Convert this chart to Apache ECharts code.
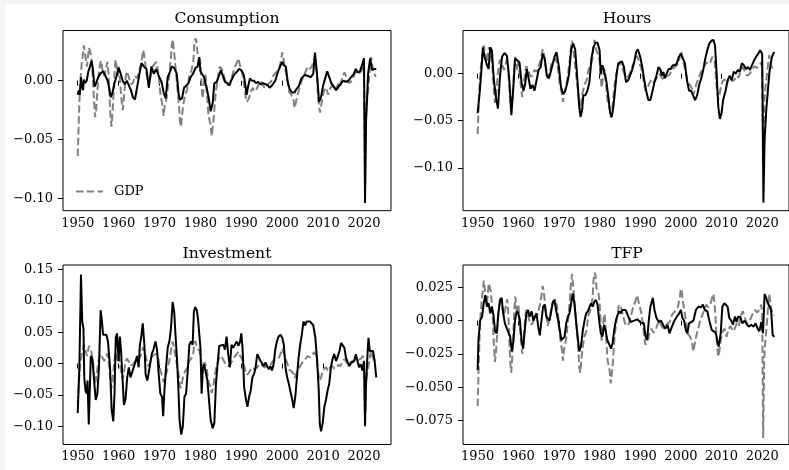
<!DOCTYPE html>
<html>
<head>
<meta charset="utf-8">
<script src="https://cdn.jsdelivr.net/npm/echarts@6/dist/echarts.min.js"></script>
<style>
html,body{margin:0;padding:0;background:#f5f5f5;width:789px;height:470px;overflow:hidden}
#c{position:absolute;left:5px;top:4px;width:784px;height:466px;background:#fff}
</style>
</head>
<body>
<div id="c"></div>
<script>
// ---- data (quarterly-ish readings of HP-filtered cycles) ----
const panelTitles = ['Consumption', 'Hours', 'Investment', 'TFP'];
const xTicks = [1950, 1960, 1970, 1980, 1990, 2000, 2010, 2020];
const yTicksCons = [-0.10, -0.05, 0.00];
const yTicksHours = [-0.10, -0.05, 0.00];
const yTicksInv = [-0.10, -0.05, 0.00, 0.05, 0.10, 0.15];
const yTicksTfp = [-0.075, -0.050, -0.025, 0.000, 0.025];

const gdpYears = [1950.0,1950.25,1950.5,1950.75,1951.0,1951.25,1951.5,1951.75,1952.0,1952.25,1952.5,1952.75,1953.0,1953.25,1953.5,1953.75,1954.0,1954.25,1954.5,1954.75,1955.0,1955.5,1955.75,1956.0,1956.5,1957.0,1957.25,1957.5,1957.75,1958.0,1958.25,1958.5,1958.75,1959.0,1959.25,1959.5,1959.75,1960.0,1960.25,1960.5,1960.75,1961.0,1961.25,1961.5,1961.75,1962.0,1962.5,1963.0,1963.5,1964.0,1964.5,1965.0,1965.5,1966.0,1966.25,1966.75,1967.25,1967.75,1968.25,1968.75,1969.25,1969.75,1970.25,1970.75,1971.0,1971.25,1971.75,1972.25,1972.75,1973.0,1973.25,1973.5,1973.75,1974.25,1974.75,1975.0,1975.25,1975.5,1975.75,1976.25,1976.75,1977.25,1977.75,1978.25,1978.5,1978.75,1979.0,1979.25,1979.75,1980.0,1980.5,1980.75,1981.0,1981.25,1981.5,1981.75,1982.0,1982.5,1982.75,1983.0,1983.25,1983.5,1983.75,1984.25,1984.75,1985.25,1985.75,1986.25,1986.75,1987.25,1987.75,1988.25,1988.75,1989.25,1989.5,1989.75,1990.25,1990.75,1991.0,1991.25,1991.5,1991.75,1992.25,1992.75,1993.25,1993.75,1994.25,1994.75,1995.25,1995.75,1996.25,1996.75,1997.25,1997.75,1998.25,1998.75,1999.25,1999.75,2000.0,2000.25,2000.5,2000.75,2001.25,2001.75,2002.25,2002.75,2003.0,2003.25,2003.75,2004.25,2004.75,2005.25,2005.75,2006.25,2006.75,2007.25,2007.75,2008.0,2008.25,2008.5,2008.75,2009.0,2009.25,2009.5,2009.75,2010.25,2010.75,2011.25,2011.75,2012.25,2012.75,2013.25,2013.75,2014.25,2014.75,2015.25,2015.75,2016.25,2016.75,2017.25,2017.75,2018.25,2018.75,2019.25,2019.75,2020.0,2020.25,2020.5,2020.75,2021.0,2021.25,2021.5,2021.75,2022.0,2022.25,2022.5,2022.75,2023.0];
const gdpVals = [-0.064,-0.035,-0.01,0.005,0.015,0.022,0.030,0.024,0.018,0.012,0.02,0.028,0.029,0.022,0.012,0.0,-0.018,-0.031,-0.025,-0.012,0.002,0.015,0.017,0.01,0.004,0.012,0.016,0.008,-0.01,-0.03,-0.039,-0.028,-0.012,0.006,0.018,0.012,0.004,0.012,0.004,-0.008,-0.018,-0.025,-0.016,-0.006,0.004,0.008,0.003,-0.003,-0.002,0.004,0.002,0.008,0.014,0.026,0.022,0.008,-0.004,0.002,0.012,0.014,0.016,0.006,-0.012,-0.022,-0.03,-0.022,-0.014,0.0,0.018,0.030,0.035,0.026,0.018,-0.002,-0.02,-0.035,-0.039,-0.03,-0.022,-0.012,-0.008,0.004,0.008,0.016,0.03,0.036,0.034,0.024,0.02,0.014,-0.015,-0.008,0.002,0.005,-0.005,-0.02,-0.03,-0.038,-0.047,-0.04,-0.032,-0.02,-0.01,0.002,0.012,0.01,0.004,-0.002,-0.004,-0.002,0.004,0.01,0.014,0.019,0.018,0.012,0.006,-0.005,-0.012,-0.018,-0.017,-0.016,-0.01,-0.006,-0.009,-0.007,-0.003,0.0,-0.004,-0.006,-0.004,-0.002,-0.001,0.004,0.006,0.008,0.01,0.018,0.024,0.021,0.014,0.01,0.0,-0.01,-0.012,-0.016,-0.023,-0.02,-0.012,-0.006,0.0,0.004,0.008,0.012,0.01,0.012,0.018,0.02,0.014,0.004,-0.012,-0.022,-0.027,-0.022,-0.016,-0.008,-0.006,-0.012,-0.006,-0.004,-0.008,-0.006,-0.002,-0.004,0.004,0.007,0.002,-0.002,-0.001,0.002,0.006,0.008,0.006,0.008,0.012,0.006,-0.088,-0.03,-0.016,-0.008,0.002,0.012,0.02,0.014,0.008,0.006,0.004,0.004];

const consYears = [1950.0,1950.3,1950.5,1950.8,1951.0,1951.3,1951.5,1951.8,1952.2,1952.6,1953.0,1953.4,1953.7,1954.1,1954.5,1955.0,1955.5,1956.2,1956.8,1957.4,1958.1,1958.5,1959.0,1959.5,1960.0,1960.5,1961.0,1961.5,1962.0,1962.5,1963.0,1963.5,1964.0,1964.6,1965.2,1965.6,1966.2,1966.8,1967.4,1968.0,1968.6,1969.2,1969.8,1970.5,1971.0,1971.5,1972.0,1972.6,1973.0,1973.6,1974.2,1974.7,1975.0,1975.5,1976.0,1976.6,1977.1,1977.6,1978.2,1978.8,1979.3,1979.7,1980.0,1980.4,1980.9,1981.5,1982.0,1982.5,1983.0,1983.4,1984.0,1984.5,1985.0,1985.4,1986.0,1986.6,1987.1,1987.5,1988.2,1989.0,1989.4,1990.0,1990.6,1991.0,1991.3,1991.6,1992.1,1992.6,1993.1,1993.6,1994.1,1994.7,1995.3,1995.9,1996.5,1996.9,1997.5,1998.3,1999.0,1999.6,2000.0,2000.4,2000.9,2001.3,2001.8,2002.4,2003.0,2003.5,2004.0,2004.7,2005.5,2006.3,2007.0,2007.6,2008.0,2008.5,2009.0,2009.5,2010.0,2010.5,2011.0,2011.5,2012.0,2012.6,2013.2,2013.8,2014.4,2015.0,2015.6,2016.2,2016.8,2017.4,2018.0,2018.5,2019.0,2019.5,2020.0,2020.25,2020.5,2020.75,2021.0,2021.5,2021.75,2022.0,2022.5,2023.0];
const consVals = [-0.012,-0.008,-0.012,0.003,-0.004,-0.008,0.001,-0.002,0.0,0.008,0.012,0.017,0.01,-0.005,-0.002,0.003,0.006,0.008,0.004,-0.001,-0.014,-0.01,-0.002,0.004,0.011,0.006,0.0,-0.003,0.0,-0.004,-0.008,-0.014,-0.016,-0.004,0.008,0.015,0.012,0.01,-0.006,0.012,0.006,0.01,0.004,-0.001,-0.01,-0.015,0.003,0.008,0.012,0.011,0.006,-0.012,-0.016,-0.015,-0.006,-0.004,-0.002,0.003,0.006,0.011,0.012,0.02,0.008,0.009,0.003,-0.006,-0.014,-0.026,-0.019,-0.002,-0.001,0.004,0.009,0.01,-0.001,-0.002,-0.004,0.0,0.005,0.008,0.01,0.009,0.005,-0.004,-0.012,-0.006,0.002,0.0,0.0,-0.002,-0.001,-0.003,-0.002,-0.003,-0.004,-0.006,-0.004,0.0,0.008,0.013,0.016,0.013,0.012,0.0,-0.007,-0.01,-0.01,-0.007,-0.005,0.002,0.005,0.004,0.003,0.006,0.024,0.006,-0.018,-0.014,-0.004,0.002,0.008,0.003,-0.002,-0.005,-0.008,-0.005,-0.002,0.0,-0.001,0.0,0.003,0.005,0.01,0.007,0.008,0.013,0.019,-0.104,-0.034,-0.015,0.006,0.019,0.02,0.009,0.01,0.01];

const hoursYears = [1950.0,1950.5,1950.9,1951.3,1951.7,1952.3,1952.7,1953.1,1953.5,1954.0,1954.6,1955.0,1955.5,1956.0,1956.6,1957.2,1957.8,1958.3,1958.8,1959.2,1959.8,1960.3,1960.8,1961.3,1961.7,1962.1,1962.5,1963.0,1963.5,1964.0,1964.5,1965.0,1965.5,1966.0,1966.5,1967.0,1967.5,1968.0,1968.5,1969.0,1969.4,1970.0,1970.5,1971.0,1971.5,1972.0,1972.5,1973.0,1973.5,1974.0,1974.5,1975.0,1975.3,1975.7,1976.0,1976.5,1977.0,1977.5,1978.0,1978.5,1979.0,1979.5,1980.0,1980.3,1980.7,1981.0,1981.3,1981.7,1982.2,1982.6,1983.0,1983.4,1983.8,1984.2,1984.6,1985.0,1985.5,1986.0,1986.5,1987.0,1987.5,1988.0,1988.5,1989.0,1989.4,1990.0,1990.5,1991.0,1991.5,1992.0,1992.5,1993.0,1993.5,1994.0,1994.5,1995.0,1995.3,1995.7,1996.0,1996.5,1997.0,1997.5,1998.0,1998.5,1999.0,1999.5,2000.0,2000.5,2001.0,2001.5,2002.0,2002.5,2003.0,2003.5,2004.0,2004.5,2005.0,2005.5,2006.0,2006.5,2007.0,2007.5,2008.0,2008.4,2008.8,2009.2,2009.6,2010.0,2010.4,2011.0,2011.5,2012.0,2012.5,2013.0,2013.5,2014.0,2014.5,2015.0,2015.5,2016.0,2016.5,2017.0,2017.5,2018.0,2018.5,2019.0,2019.5,2020.0,2020.3,2020.6,2021.0,2021.4,2021.8,2022.3,2022.7,2023.0];
const hoursVals = [-0.042,-0.02,0.002,0.028,0.018,0.009,0.005,0.028,0.025,-0.007,-0.028,-0.037,-0.003,0.018,0.022,0.019,-0.007,-0.044,-0.014,0.016,0.014,0.012,-0.009,-0.018,-0.011,0.005,-0.004,-0.016,-0.012,-0.018,-0.007,0.004,0.007,0.021,0.016,-0.002,-0.005,0.002,0.011,0.019,0.023,0.007,-0.014,-0.021,-0.019,-0.011,0.0,0.025,0.032,0.026,-0.004,-0.035,-0.046,-0.039,-0.023,-0.023,-0.018,-0.009,0.016,0.028,0.033,0.033,0.025,0.0,0.009,0.005,0.007,-0.009,-0.026,-0.042,-0.046,-0.035,-0.018,0.0,0.011,0.012,0.013,0.007,-0.009,-0.007,-0.002,0.004,0.012,0.023,0.026,0.018,0.007,-0.007,-0.019,-0.028,-0.028,-0.019,-0.009,-0.002,0.007,0.004,-0.002,0.002,-0.005,0.0,0.005,0.005,0.009,0.009,0.011,0.018,0.021,0.016,0.011,-0.007,-0.018,-0.018,-0.023,-0.028,-0.023,-0.012,-0.005,0.004,0.016,0.025,0.032,0.035,0.036,0.03,0.0,-0.035,-0.048,-0.042,-0.028,-0.018,-0.007,-0.002,-0.007,0.002,0.0,0.004,0.002,0.011,0.009,0.005,0.007,0.004,0.009,0.014,0.018,0.021,0.025,0.021,-0.137,-0.07,-0.039,-0.018,0.002,0.016,0.021,0.023];

const invYears = [1950.0,1950.4,1950.8,1951.1,1951.4,1951.6,1951.9,1952.2,1952.4,1952.7,1953.0,1953.2,1953.6,1954.0,1954.4,1954.8,1955.2,1955.6,1955.9,1956.2,1956.6,1957.0,1957.4,1957.9,1958.3,1958.7,1959.0,1959.3,1959.6,1960.0,1960.3,1960.6,1960.9,1961.3,1961.7,1962.1,1962.5,1962.9,1963.3,1963.7,1964.1,1964.5,1964.9,1965.2,1965.5,1965.9,1966.3,1966.6,1967.0,1967.3,1967.7,1968.1,1968.5,1969.0,1969.4,1969.8,1970.2,1970.6,1970.9,1971.2,1971.6,1972.0,1972.4,1972.8,1973.2,1973.6,1973.9,1974.3,1974.6,1974.9,1975.3,1975.7,1976.1,1976.5,1976.9,1977.3,1977.7,1978.1,1978.4,1978.7,1979.1,1979.4,1979.7,1980.0,1980.3,1980.6,1980.9,1981.3,1981.7,1982.1,1982.5,1983.0,1983.4,1983.8,1984.2,1984.6,1985.1,1985.6,1986.0,1986.4,1986.8,1987.2,1987.6,1988.0,1988.4,1988.9,1989.3,1989.7,1990.0,1990.3,1990.7,1991.1,1991.5,1991.9,1992.3,1992.7,1993.1,1993.5,1993.9,1994.3,1994.7,1995.1,1995.5,1995.9,1996.3,1996.7,1997.1,1997.5,1997.9,1998.3,1998.7,1999.1,1999.6,2000.0,2000.4,2000.8,2001.2,2001.6,2002.0,2002.4,2002.8,2003.2,2003.6,2004.0,2004.4,2004.8,2005.2,2005.6,2006.0,2006.4,2006.8,2007.2,2007.6,2008.1,2008.5,2008.9,2009.2,2009.5,2009.9,2010.3,2010.7,2011.1,2011.5,2011.9,2012.3,2012.7,2013.2,2013.6,2014.0,2014.4,2014.8,2015.2,2015.6,2016.0,2016.4,2016.8,2017.2,2017.6,2018.0,2018.4,2018.8,2019.2,2019.6,2020.0,2020.25,2020.5,2020.9,2021.1,2021.4,2021.8,2022.2,2022.6,2023.0];
const invVals = [-0.079,-0.006,0.142,0.067,0.056,-0.022,-0.043,-0.048,-0.027,-0.097,-0.032,0.012,0.007,-0.027,-0.058,-0.048,-0.006,0.085,0.069,0.046,0.043,0.046,0.035,-0.006,-0.074,-0.092,-0.048,0.041,0.048,0.004,0.043,0.02,-0.017,-0.066,-0.056,-0.022,-0.006,-0.022,-0.014,-0.006,0.002,0.012,-0.006,0.03,0.041,0.064,0.03,-0.017,-0.027,-0.017,-0.001,0.015,0.022,0.035,0.022,-0.017,-0.048,-0.053,-0.084,-0.043,-0.006,0.025,0.035,0.056,0.098,0.082,0.046,0.004,-0.038,-0.09,-0.113,-0.1,-0.053,-0.048,-0.011,0.03,0.035,0.03,0.082,0.09,0.085,0.072,0.069,0.025,-0.048,-0.006,-0.001,-0.001,-0.027,-0.058,-0.09,-0.103,-0.095,-0.032,-0.001,0.028,0.029,0.03,0.022,0.043,0.015,-0.006,0.03,0.025,0.022,0.035,0.028,0.035,0.048,0.025,-0.038,-0.056,-0.069,-0.053,-0.043,-0.022,-0.017,-0.006,0.015,0.017,0.004,0.002,-0.004,0.002,-0.004,-0.009,-0.004,-0.011,-0.001,0.022,0.035,0.043,0.046,0.041,0.03,-0.006,-0.022,-0.032,-0.035,-0.056,-0.071,-0.053,-0.022,0.009,0.03,0.046,0.067,0.061,0.067,0.064,0.067,0.067,0.061,0.041,0.009,-0.038,-0.097,-0.108,-0.095,-0.069,-0.058,-0.043,-0.032,-0.006,0.007,0.015,0.004,0.012,0.02,0.033,0.03,0.025,0.009,0.002,-0.004,0.002,-0.001,0.004,0.015,0.015,-0.006,-0.001,-0.011,0.004,-0.1,-0.032,0.02,0.041,0.02,0.022,0.02,0.004,-0.022];

const tfpYears = [1950.0,1950.2,1950.6,1951.1,1951.5,1951.9,1952.3,1952.7,1953.1,1953.5,1953.9,1954.3,1954.7,1955.1,1955.5,1955.9,1956.3,1956.7,1957.2,1957.6,1958.0,1958.4,1958.8,1959.2,1959.6,1960.0,1960.4,1960.8,1961.2,1961.6,1962.0,1962.4,1962.8,1963.3,1963.7,1964.1,1964.5,1964.9,1965.3,1965.7,1966.1,1966.5,1966.9,1967.3,1967.7,1968.1,1968.5,1968.9,1969.3,1969.8,1970.2,1970.6,1971.0,1971.4,1971.8,1972.2,1972.6,1973.0,1973.4,1973.8,1974.2,1974.6,1975.0,1975.4,1975.9,1976.3,1976.7,1977.1,1977.5,1977.9,1978.3,1978.7,1979.1,1979.5,1979.9,1980.3,1980.7,1981.1,1981.5,1981.9,1982.4,1982.8,1983.2,1983.6,1984.0,1984.4,1984.8,1985.2,1985.6,1986.0,1986.4,1986.8,1987.6,1988.5,1989.3,1990.1,1990.9,1991.3,1991.7,1992.1,1992.5,1993.1,1993.5,1994.0,1994.6,1995.1,1995.6,1996.2,1996.7,1997.2,1997.8,1998.4,1999.0,1999.6,2000.0,2000.4,2000.8,2001.2,2001.6,2002.0,2002.4,2003.1,2003.7,2004.3,2004.9,2005.4,2005.9,2006.5,2007.0,2007.6,2008.1,2008.6,2009.0,2009.3,2009.8,2010.2,2010.7,2011.1,2011.5,2011.9,2012.4,2012.8,2013.3,2013.7,2014.1,2014.6,2015.1,2015.7,2016.3,2016.7,2017.3,2017.9,2018.4,2018.9,2019.3,2019.8,2020.2,2020.6,2021.0,2021.4,2021.8,2022.2,2022.6,2023.0];
const tfpVals = [-0.037,-0.0145,0.0,0.003,0.013,0.019,0.0105,0.013,0.0055,0.0105,0.004,-0.008,-0.0095,0.0055,0.0155,0.017,0.0055,-0.002,-0.006,-0.006,-0.012,-0.023,-0.0155,0.0,0.007,0.0055,0.0,-0.0145,-0.021,-0.007,0.0055,0.008,0.003,0.007,0.0,0.003,0.0055,-0.0045,-0.011,0.0,0.0105,0.012,0.003,0.004,0.0,0.007,0.014,0.0155,0.008,0.0,-0.007,-0.0145,-0.0155,-0.012,-0.002,0.003,0.0055,0.013,0.0205,0.013,0.0,-0.012,-0.023,-0.0195,-0.007,0.0,0.0055,0.007,0.008,0.013,0.0105,0.014,0.0155,0.012,0.0,-0.0095,-0.012,-0.003,-0.008,-0.0145,-0.018,-0.021,-0.017,-0.007,0.0,0.004,0.007,0.0055,0.008,0.009,0.008,0.008,-0.001,0.0,0.001,-0.0015,-0.002,-0.012,-0.0145,0.0,0.0105,0.017,0.008,0.002,-0.001,0.0,-0.003,-0.006,-0.003,-0.0095,-0.0045,0.0,0.003,0.0055,0.008,0.002,0.0,-0.007,-0.0095,-0.002,-0.001,0.0,0.008,0.0105,0.01,0.012,0.008,0.007,0.0,-0.007,-0.008,-0.0095,-0.0155,-0.0195,-0.0095,0.0105,0.013,0.014,0.0105,0.002,0.0,-0.003,0.003,-0.001,0.003,0.003,-0.002,0.0,-0.003,-0.0045,-0.003,-0.0045,-0.002,-0.006,-0.008,-0.001,-0.0095,0.02,0.017,0.013,0.014,0.008,-0.011,-0.012];

// ---- layout ----
const OX = 5, OY = 4; // chart div offset in page
const FONT = "'DejaVu Serif', serif";
const panels = [
  {l: 63, t: 30.5, h: 180.2, ymin: -0.1105, ymax: 0.0427, ticks: yTicksCons, dec: 2, years: consYears, vals: consVals},
  {l: 463, t: 30.5, h: 180.2, ymin: -0.1456, ymax: 0.0459, ticks: yTicksHours, dec: 2, years: hoursYears, vals: hoursVals},
  {l: 63, t: 265, h: 179.5, ymin: -0.129, ymax: 0.157, ticks: yTicksInv, dec: 2, years: invYears, vals: invVals},
  {l: 463, t: 265, h: 179.5, ymin: -0.0928, ymax: 0.0417, ticks: yTicksTfp, dec: 3, years: tfpYears, vals: tfpVals}
];
const W = 328;
const zip = (a, b) => a.map((x, i) => [x, b[i]]);
const fmt = d => v => (v < -1e-12 ? '\u2212' : '') + Math.abs(v).toFixed(d);

const grid = [], xAxis = [], yAxis = [], series = [], graphic = [];
panels.forEach((p, i) => {
  grid.push({left: p.l - OX, top: p.t - OY, width: W, height: p.h, show: true,
    borderColor: '#000', borderWidth: 1, backgroundColor: 'transparent', containLabel: false});
  xAxis.push({gridIndex: i, type: 'value', min: 1946.4, max: 2026.6, position: 'bottom',
    axisLine: {show: false}, splitLine: {show: false},
    axisTick: {show: true, customValues: xTicks, length: 5, lineStyle: {color: '#000', width: 1}},
    axisLabel: {customValues: xTicks, formatter: v => String(Math.round(v)), margin: 6,
      fontFamily: FONT, fontSize: 13, color: '#000'}});
  yAxis.push({gridIndex: i, type: 'value', min: p.ymin, max: p.ymax, position: 'left',
    axisLine: {show: false}, splitLine: {show: false},
    axisTick: {show: true, customValues: p.ticks, length: 5, lineStyle: {color: '#000', width: 1}},
    axisLabel: {customValues: p.ticks, formatter: fmt(p.dec), margin: 10,
      fontFamily: FONT, fontSize: 13, color: '#000'}});
  series.push({type: 'line', name: 'GDP', xAxisIndex: i, yAxisIndex: i, data: zip(gdpYears, gdpVals),
    showSymbol: false, symbol: 'none', clip: true, z: 2,
    lineStyle: {color: '#808080', width: 2, type: [7.5, 3.3]}, itemStyle: {color: '#808080'}});
  series.push({type: 'line', name: panelTitles[i], xAxisIndex: i, yAxisIndex: i, data: zip(p.years, p.vals),
    showSymbol: false, symbol: 'none', clip: true, z: 3,
    lineStyle: {color: '#000', width: 2}, itemStyle: {color: '#000'}});
  graphic.push({type: 'text', x: p.l + W / 2 - OX, y: p.t - 11.5 - OY,
    style: {text: panelTitles[i], font: "15.6px 'DejaVu Serif', serif", fill: '#000', align: 'center', verticalAlign: 'middle'}});
});

const chart = echarts.init(document.getElementById('c'), null, {renderer: 'canvas'});
chart.setOption({
  animation: false,
  backgroundColor: '#fff',
  grid, xAxis, yAxis, series, graphic,
  legend: {data: ['GDP'], left: 75 - OX, top: 185 - OY, padding: 0, itemWidth: 27, itemHeight: 14, itemGap: 10,
    itemStyle: {opacity: 0},
    textStyle: {fontFamily: FONT, fontSize: 13, color: '#000', padding: [0, 0, 0, 6]}, selectedMode: false}
});
</script>
</body>
</html>
